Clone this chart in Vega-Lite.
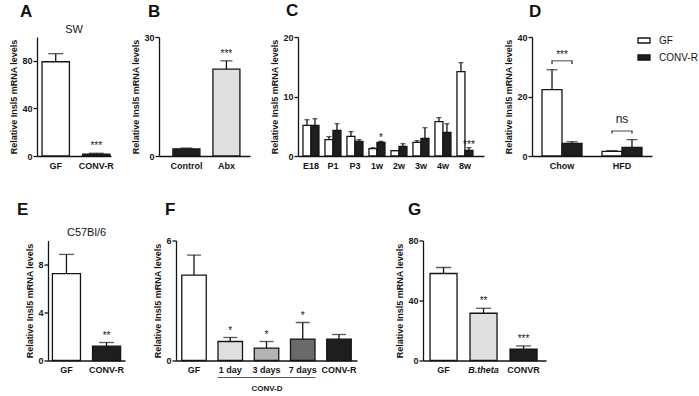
{
  "$schema": "https://vega.github.io/schema/vega-lite/v6.json",
  "autosize": {"type": "none"},
  "padding": {"left": 37, "top": 37, "right": 662, "bottom": 359},
  "background": "white",
  "config": {
    "view": {"stroke": null},
    "font": "Liberation Sans",
    "axis": {"labelFont": "Liberation Sans", "titleFont": "Liberation Sans", "labelFontWeight": "bold", "titleFontWeight": "bold", "labelFontSize": 9, "titleFontSize": 9, "labelColor": "#151515", "titleColor": "#151515", "domainColor": "#151515", "domainWidth": 1.3, "tickColor": "#151515", "tickWidth": 1.3, "tickSize": 4, "grid": false, "labelPadding": 1, "titlePadding": 3, "labelOverlap": false},
    "axisX": {"ticks": false, "labelAngle": 0, "labelPadding": 5},
    "title": {"font": "Liberation Sans", "fontSize": 17, "fontWeight": "bold", "color": "#111111", "anchor": "start", "frame": "group", "baseline": "alphabetic"},
    "text": {"font": "Liberation Sans", "color": "#151515", "baseline": "alphabetic"},
    "bar": {"stroke": "#151515", "strokeWidth": 1.3},
    "rule": {"color": "#151515", "strokeWidth": 1.3},
    "tick": {"color": "#151515", "thickness": 1.3}
  },
  "datasets": {
    "A": [{"g": "GF", "v": 79.2, "hi": 86.0, "sig": ""}, {"g": "CONV-R", "v": 1.6, "hi": 2.3, "sig": "***"}],
    "B": [{"g": "Control", "v": 1.8, "hi": 2.0, "sig": ""}, {"g": "Abx", "v": 21.9, "hi": 24.0, "sig": "***"}],
    "C": [
      {"g": "E18", "s": "GF", "v": 5.15, "hi": 6.1, "sig": ""}, {"g": "E18", "s": "CONV-R", "v": 5.15, "hi": 6.27, "sig": ""},
      {"g": "P1", "s": "GF", "v": 2.75, "hi": 3.25, "sig": ""}, {"g": "P1", "s": "CONV-R", "v": 4.3, "hi": 5.43, "sig": ""},
      {"g": "P3", "s": "GF", "v": 3.3, "hi": 4.1, "sig": ""}, {"g": "P3", "s": "CONV-R", "v": 2.46, "hi": 2.75, "sig": ""},
      {"g": "1w", "s": "GF", "v": 1.23, "hi": 1.4, "sig": ""}, {"g": "1w", "s": "CONV-R", "v": 2.3, "hi": 2.46, "sig": "*"},
      {"g": "2w", "s": "GF", "v": 0.9, "hi": 0.9, "sig": ""}, {"g": "2w", "s": "CONV-R", "v": 1.62, "hi": 2.07, "sig": ""},
      {"g": "3w", "s": "GF", "v": 2.3, "hi": 2.58, "sig": ""}, {"g": "3w", "s": "CONV-R", "v": 2.97, "hi": 4.76, "sig": ""},
      {"g": "4w", "s": "GF", "v": 5.77, "hi": 6.44, "sig": ""}, {"g": "4w", "s": "CONV-R", "v": 3.98, "hi": 5.43, "sig": ""},
      {"g": "8w", "s": "GF", "v": 14.17, "hi": 15.69, "sig": ""}, {"g": "8w", "s": "CONV-R", "v": 0.95, "hi": 1.4, "sig": "***"}
    ],
    "D": [
      {"g": "Chow", "s": "GF", "v": 22.3, "hi": 29.0}, {"g": "Chow", "s": "CONV-R", "v": 4.25, "hi": 4.8},
      {"g": "HFD", "s": "GF", "v": 1.57, "hi": 1.8}, {"g": "HFD", "s": "CONV-R", "v": 2.9, "hi": 5.5}
    ],
    "Dbr": [
      {"g": "Chow", "s": "GF", "y0": 30.9, "y1": 32.0}, {"g": "Chow", "s": "CONV-R", "y0": 30.9, "y1": 32.0},
      {"g": "HFD", "s": "GF", "y0": 7.6, "y1": 8.4}, {"g": "HFD", "s": "CONV-R", "y0": 7.6, "y1": 8.4}
    ],
    "Dlab": [{"g": "Chow", "y1": 32.0, "lab": "***"}, {"g": "HFD", "y1": 8.4, "lab": "ns"}],
    "E": [{"g": "GF", "v": 7.24, "hi": 8.84, "sig": ""}, {"g": "CONV-R", "v": 1.2, "hi": 1.5, "sig": "**"}],
    "F": [
      {"g": "GF", "v": 4.27, "hi": 5.27, "sig": ""}, {"g": "1 day", "v": 0.95, "hi": 1.15, "sig": "*"},
      {"g": "3 days", "v": 0.62, "hi": 0.95, "sig": "*"}, {"g": "7 days", "v": 1.07, "hi": 1.9, "sig": "*"},
      {"g": "CONV-R", "v": 1.07, "hi": 1.3, "sig": ""}
    ],
    "G": [{"g": "GF", "v": 58.0, "hi": 62.0, "sig": ""}, {"g": "B.theta", "v": 31.5, "hi": 34.8, "sig": "**"}, {"g": "CONVR", "v": 7.5, "hi": 9.7, "sig": "***"}]
  },
  "bounds": "full",
  "spacing": 30.5,
  "resolve": {"scale": {"fill": "independent", "xOffset": "independent"}, "legend": {"fill": "independent"}},
  "vconcat": [
    {
      "bounds": "flush",
      "spacing": 48,
      "resolve": {"scale": {"fill": "independent", "xOffset": "independent"}, "legend": {"fill": "independent"}},
      "hconcat": [
        {
          "width": 74, "height": 119,
          "title": {"text": "A", "dx": -17, "offset": 2.5},
          "data": {"name": "A"},
          "layer": [
            {"mark": "bar", "encoding": {
              "x": {"field": "g", "type": "nominal", "scale": {"domain": ["GF", "CONV-R"], "paddingInner": 0.325, "paddingOuter": 0.075, "align": 0.83}, "axis": {"title": null}},
              "y": {"field": "v", "type": "quantitative", "scale": {"domain": [0, 100], "nice": false}, "axis": {"values": [0, 20, 40, 60, 80, 100], "title": "Relative Insl5 mRNA levels"}},
              "fill": {"field": "g", "type": "nominal", "scale": {"domain": ["GF", "CONV-R"], "range": ["#ffffff", "#1e1e1e"]}, "legend": null}}},
            {"mark": "rule", "encoding": {"x": {"field": "g", "type": "nominal"}, "y": {"field": "v", "type": "quantitative"}, "y2": {"field": "hi"}}},
            {"mark": {"type": "tick", "size": 15}, "encoding": {"x": {"field": "g", "type": "nominal"}, "y": {"field": "hi", "type": "quantitative"}}},
            {"mark": {"type": "text", "fontSize": 10, "dy": -4}, "encoding": {"x": {"field": "g", "type": "nominal"}, "y": {"field": "hi", "type": "quantitative"}, "text": {"field": "sig"}}},
            {"data": {"values": [{"t": "SW"}]}, "mark": {"type": "text", "fontSize": 11, "dy": -4.5}, "encoding": {"y": {"datum": 100}, "text": {"field": "t"}}}
          ]
        },
        {
          "width": 91, "height": 119,
          "title": {"text": "B", "dx": -11, "offset": 12.5},
          "data": {"name": "B"},
          "layer": [
            {"mark": "bar", "encoding": {
              "x": {"field": "g", "type": "nominal", "scale": {"domain": ["Control", "Abx"], "paddingInner": 0.325, "paddingOuter": 0.3, "align": 0.58}, "axis": {"title": null}},
              "y": {"field": "v", "type": "quantitative", "scale": {"domain": [0, 30], "nice": false}, "axis": {"values": [0, 10, 20, 30], "title": "Relative Insl5 mRNA levels"}},
              "fill": {"field": "g", "type": "nominal", "scale": {"domain": ["Control", "Abx"], "range": ["#1e1e1e", "#e0e0e0"]}, "legend": null}}},
            {"mark": "rule", "encoding": {"x": {"field": "g", "type": "nominal"}, "y": {"field": "v", "type": "quantitative"}, "y2": {"field": "hi"}}},
            {"mark": {"type": "tick", "size": 12}, "encoding": {"x": {"field": "g", "type": "nominal"}, "y": {"field": "hi", "type": "quantitative"}}},
            {"mark": {"type": "text", "fontSize": 10, "dy": -4}, "encoding": {"x": {"field": "g", "type": "nominal"}, "y": {"field": "hi", "type": "quantitative"}, "text": {"field": "sig"}}}
          ]
        },
        {
          "width": 186, "height": 119,
          "title": {"text": "C", "dx": -12, "offset": 13},
          "data": {"name": "C"},
          "layer": [
            {"mark": "bar", "encoding": {
              "x": {"field": "g", "type": "nominal", "scale": {"domain": ["E18", "P1", "P3", "1w", "2w", "3w", "4w", "8w"], "paddingInner": 0.273, "paddingOuter": 0.364, "align": 0.31}, "axis": {"title": null}},
              "xOffset": {"field": "s", "type": "nominal", "scale": {"domain": ["GF", "CONV-R"], "paddingInner": 0, "paddingOuter": 0}},
              "y": {"field": "v", "type": "quantitative", "scale": {"domain": [0, 20], "nice": false}, "axis": {"values": [0, 5, 10, 15, 20], "title": "Relative Insl5 mRNA levels"}},
              "fill": {"field": "s", "type": "nominal", "scale": {"domain": ["GF", "CONV-R"], "range": ["#ffffff", "#1e1e1e"]}, "legend": null}}},
            {"mark": "rule", "encoding": {"x": {"field": "g", "type": "nominal"}, "xOffset": {"field": "s", "type": "nominal"}, "y": {"field": "v", "type": "quantitative"}, "y2": {"field": "hi"}}},
            {"mark": {"type": "tick", "size": 5}, "encoding": {"x": {"field": "g", "type": "nominal"}, "xOffset": {"field": "s", "type": "nominal"}, "y": {"field": "hi", "type": "quantitative"}}},
            {"mark": {"type": "text", "fontSize": 10, "dy": 0}, "encoding": {"x": {"field": "g", "type": "nominal"}, "xOffset": {"field": "s", "type": "nominal"}, "y": {"field": "hi", "type": "quantitative"}, "text": {"field": "sig"}}}
          ]
        },
        {
          "width": 120, "height": 119,
          "title": {"text": "D", "dx": -3, "offset": 12.5},
          "layer": [
            {"data": {"name": "D"}, "mark": "bar", "encoding": {
              "x": {"field": "g", "type": "nominal", "scale": {"domain": ["Chow", "HFD"], "paddingInner": 0.333, "paddingOuter": 0.167}, "axis": {"title": null}},
              "xOffset": {"field": "s", "type": "nominal", "scale": {"domain": ["GF", "CONV-R"], "paddingInner": 0, "paddingOuter": 0}},
              "y": {"field": "v", "type": "quantitative", "scale": {"domain": [0, 40], "nice": false}, "axis": {"values": [0, 10, 20, 30, 40], "title": "Relative Insl5 mRNA levels"}},
              "fill": {"field": "s", "type": "nominal", "scale": {"domain": ["GF", "CONV-R"], "range": ["#ffffff", "#1e1e1e"]},
                "legend": {"orient": "none", "legendX": 105, "legendY": -3.5, "title": null, "symbolType": "M-1,-0.42H1V0.42H-1Z", "symbolSize": 144, "symbolStrokeColor": "#151515", "symbolStrokeWidth": 1.2, "labelFont": "Liberation Sans", "labelFontSize": 10, "labelColor": "#151515", "labelOffset": 8, "rowPadding": 4, "padding": 0}}}},
            {"data": {"name": "D"}, "mark": "rule", "encoding": {"x": {"field": "g", "type": "nominal"}, "xOffset": {"field": "s", "type": "nominal"}, "y": {"field": "v", "type": "quantitative"}, "y2": {"field": "hi"}}},
            {"data": {"name": "D"}, "mark": {"type": "tick", "size": 11}, "encoding": {"x": {"field": "g", "type": "nominal"}, "xOffset": {"field": "s", "type": "nominal"}, "y": {"field": "hi", "type": "quantitative"}}},
            {"data": {"name": "Dbr"}, "mark": {"type": "rule", "color": "#333333"}, "encoding": {"x": {"field": "g", "type": "nominal"}, "xOffset": {"field": "s", "type": "nominal"}, "y": {"field": "y0", "type": "quantitative"}, "y2": {"field": "y1"}}},
            {"data": {"name": "Dlab"}, "mark": {"type": "tick", "size": 21, "color": "#333333"}, "encoding": {"x": {"field": "g", "type": "nominal"}, "y": {"field": "y1", "type": "quantitative"}}},
            {"data": {"name": "Dlab"}, "transform": [{"filter": "datum.lab == '***'"}], "mark": {"type": "text", "fontSize": 10, "dy": -2.5}, "encoding": {"x": {"field": "g", "type": "nominal"}, "y": {"field": "y1", "type": "quantitative"}, "text": {"field": "lab"}}},
            {"data": {"name": "Dlab"}, "transform": [{"filter": "datum.lab == 'ns'"}], "mark": {"type": "text", "fontSize": 12, "dy": -8.5}, "encoding": {"x": {"field": "g", "type": "nominal"}, "y": {"field": "y1", "type": "quantitative"}, "text": {"field": "lab"}}}
          ]
        }
      ]
    },
    {
      "bounds": "flush",
      "spacing": 5,
      "resolve": {"scale": {"fill": "independent", "xOffset": "independent"}, "legend": {"fill": "independent"}},
      "hconcat": [
        {"width": 6, "height": 120, "data": {"values": [{}]}, "mark": {"type": "point", "opacity": 0}},
        {
          "width": 77, "height": 120,
          "title": {"text": "E", "dx": -31, "offset": 8.5},
          "data": {"name": "E"},
          "layer": [
            {"mark": "bar", "encoding": {
              "x": {"field": "g", "type": "nominal", "scale": {"domain": ["GF", "CONV-R"], "paddingInner": 0.3, "paddingOuter": 0.11}, "axis": {"title": null}},
              "y": {"field": "v", "type": "quantitative", "scale": {"domain": [0, 10], "nice": false}, "axis": {"values": [0, 2, 4, 6, 8, 10], "title": "Relative Insl5 mRNA levels"}},
              "fill": {"field": "g", "type": "nominal", "scale": {"domain": ["GF", "CONV-R"], "range": ["#ffffff", "#1e1e1e"]}, "legend": null}}},
            {"mark": "rule", "encoding": {"x": {"field": "g", "type": "nominal"}, "y": {"field": "v", "type": "quantitative"}, "y2": {"field": "hi"}}},
            {"mark": {"type": "tick", "size": 15}, "encoding": {"x": {"field": "g", "type": "nominal"}, "y": {"field": "hi", "type": "quantitative"}}},
            {"mark": {"type": "text", "fontSize": 10, "dy": -4}, "encoding": {"x": {"field": "g", "type": "nominal"}, "y": {"field": "hi", "type": "quantitative"}, "text": {"field": "sig"}}},
            {"data": {"values": [{"t": "C57Bl/6"}]}, "mark": {"type": "text", "fontSize": 11, "dy": -4.5}, "encoding": {"y": {"datum": 10}, "text": {"field": "t"}}}
          ]
        },
        {"width": 41, "height": 120, "data": {"values": [{}]}, "mark": {"type": "point", "opacity": 0}},
        {
          "width": 181, "height": 120,
          "title": {"text": "F", "dx": -11, "offset": 18},
          "layer": [
            {"data": {"name": "F"}, "mark": "bar", "encoding": {
              "x": {"field": "g", "type": "nominal", "scale": {"domain": ["GF", "1 day", "3 days", "7 days", "CONV-R"], "paddingInner": 0.324, "paddingOuter": 0.159}, "axis": {"title": "CONV-D", "titleFontSize": 8, "titlePadding": 10}},
              "y": {"field": "v", "type": "quantitative", "scale": {"domain": [0, 6], "nice": false}, "axis": {"values": [0, 2, 4, 6], "title": "Relative Insl5 mRNA levels"}},
              "fill": {"field": "g", "type": "nominal", "scale": {"domain": ["GF", "1 day", "3 days", "7 days", "CONV-R"], "range": ["#ffffff", "#e0e0e0", "#b4b4b4", "#6a6a6a", "#1e1e1e"]}, "legend": null}}},
            {"data": {"name": "F"}, "mark": "rule", "encoding": {"x": {"field": "g", "type": "nominal"}, "y": {"field": "v", "type": "quantitative"}, "y2": {"field": "hi"}}},
            {"data": {"name": "F"}, "mark": {"type": "tick", "size": 14}, "encoding": {"x": {"field": "g", "type": "nominal"}, "y": {"field": "hi", "type": "quantitative"}}},
            {"data": {"name": "F"}, "mark": {"type": "text", "fontSize": 10, "dy": -4}, "encoding": {"x": {"field": "g", "type": "nominal"}, "y": {"field": "hi", "type": "quantitative"}, "text": {"field": "sig"}}},
            {"data": {"values": [{}]}, "mark": {"type": "tick", "size": 98, "thickness": 1.2}, "encoding": {"x": {"datum": "3 days"}, "y": {"datum": -0.85}}}
          ]
        },
        {"width": 56, "height": 120, "data": {"values": [{}]}, "mark": {"type": "point", "opacity": 0}},
        {
          "width": 123, "height": 120,
          "title": {"text": "G", "dx": -15, "offset": 18},
          "data": {"name": "G"},
          "layer": [
            {"mark": "bar", "encoding": {
              "x": {"field": "g", "type": "nominal", "scale": {"domain": ["GF", "B.theta", "CONVR"], "paddingInner": 0.325, "paddingOuter": 0.2, "align": 0.44}, "axis": {"title": null, "labelFontStyle": {"condition": {"test": "datum.value === 'B.theta'", "value": "italic"}, "value": "normal"}}},
              "y": {"field": "v", "type": "quantitative", "scale": {"domain": [0, 80], "nice": false}, "axis": {"values": [0, 20, 40, 60, 80], "title": "Relative Insl5 mRNA levels"}},
              "fill": {"field": "g", "type": "nominal", "scale": {"domain": ["GF", "B.theta", "CONVR"], "range": ["#ffffff", "#e0e0e0", "#1e1e1e"]}, "legend": null}}},
            {"mark": "rule", "encoding": {"x": {"field": "g", "type": "nominal"}, "y": {"field": "v", "type": "quantitative"}, "y2": {"field": "hi"}}},
            {"mark": {"type": "tick", "size": 15}, "encoding": {"x": {"field": "g", "type": "nominal"}, "y": {"field": "hi", "type": "quantitative"}}},
            {"mark": {"type": "text", "fontSize": 10, "dy": -4}, "encoding": {"x": {"field": "g", "type": "nominal"}, "y": {"field": "hi", "type": "quantitative"}, "text": {"field": "sig"}}}
          ]
        }
      ]
    }
  ]
}
